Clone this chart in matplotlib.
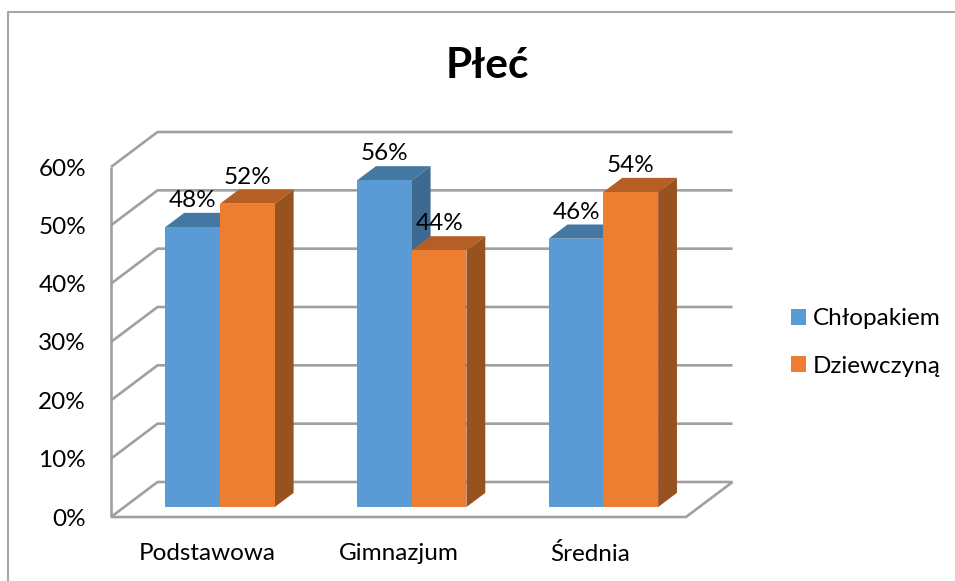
import matplotlib
matplotlib.use("Agg")
import matplotlib.pyplot as plt
from matplotlib.patches import Polygon, Patch
from matplotlib.lines import Line2D
import numpy as np

plt.rcParams['font.family'] = ['Lato', 'DejaVu Sans']

title = "Płeć"
categories = ["Podstawowa", "Gimnazjum", "Średnia"]
series_names = ["Chłopakiem", "Dziewczyną"]
chlopakiem = [48, 56, 46]
dziewczyna = [52, 44, 54]
y_ticks = [0, 10, 20, 30, 40, 50, 60]
colors = ["#5B9BD5", "#ED7D31"]
top_colors = ["#4577A3", "#B65F25"]
side_colors = ["#3E6A92", "#98521F"]
GRID = "#A0A0A0"
FS = 17.5

W, H = 955, 581
fig = plt.figure(figsize=(W / 100, H / 100), dpi=100, facecolor="white")

# Front plane of the 3D box, in pixels
PX_L, PX_R, PX_B, PX_T = 111.0, 686.0, 517.0, 167.0
ax = fig.add_axes([PX_L / W, 1 - PX_B / H, (PX_R - PX_L) / W, (PX_B - PX_T) / H])
ax.set_xlim(-0.5, 2.5)
ax.set_ylim(0, 60)
ax.patch.set_visible(False)
for s in ax.spines.values():
    s.set_visible(False)

# Box depth expressed in data units
sx = (PX_R - PX_L) / 3
sy = (PX_B - PX_T) / 60
DEPTH_X = 46.5 / sx
DEPTH_Y = 35.0 / sy


def proj(x, y, d):
    return x + d * DEPTH_X, y + d * DEPTH_Y


# walls / floor gridlines
kw = dict(color=GRID, lw=1.9, clip_on=False, solid_capstyle="butt", zorder=1)
for t in y_ticks:
    x0, y0 = proj(-0.5, t, 0)
    x1, y1 = proj(-0.5, t, 1)
    x2, y2 = proj(2.5, t, 1)
    ax.add_line(Line2D([x0, x1, x2], [y0, y1, y2], **kw))
x0, y0 = proj(-0.5, 0, 0)
x1, y1 = proj(-0.5, 60, 0)
ax.add_line(Line2D([x0, x1], [y0, y1], **kw))
x3, y3 = proj(2.5, 0, 0)
x4, y4 = proj(2.5, 0, 1)
ax.add_line(Line2D([x0, x3, x4], [y0, y3, y4], **kw))

# bars
BAR_W = 54.7 / sx
D0, D1 = 0.285, 0.69
z = 2
for i in range(len(categories)):
    for j, vals in enumerate([chlopakiem, dziewczyna]):
        v = vals[i]
        xl = i + (j - 1) * BAR_W
        xr = xl + BAR_W
        bx, by = proj(xl, 0, D0)
        ax.bar(bx, v, width=BAR_W, bottom=by, align="edge", color=colors[j],
               zorder=z + 0.2, clip_on=False, linewidth=0)
        top = [proj(xl, v, D0), proj(xr, v, D0), proj(xr, v, D1), proj(xl, v, D1)]
        ax.add_patch(Polygon(top, closed=True, fc=top_colors[j], ec="none", zorder=z, clip_on=False))
        side = [proj(xr, 0, D0), proj(xr, v, D0), proj(xr, v, D1), proj(xr, 0, D1)]
        ax.add_patch(Polygon(side, closed=True, fc=side_colors[j], ec="none", zorder=z + 0.1, clip_on=False))
        lx, ly = proj(xl + BAR_W / 2, v, D0)
        ax.annotate(f"{v}%", (lx, ly), xytext=(0, 19.2), textcoords="offset points",
                    ha="center", va="center", fontsize=FS, color="#000000",
                    zorder=20, annotation_clip=False)
        z += 1

# axis labels
ax.set_xticks(range(len(categories)))
ax.set_xticklabels(categories, fontsize=FS, color="#000000")
ax.tick_params(axis="x", length=0, pad=18.5)
for lab in ax.get_xticklabels():
    lab.set_x(lab.get_position()[0])
ax.set_yticks(y_ticks)
ax.set_yticklabels([f"{t}%" for t in y_ticks], fontsize=FS, color="#000000")
ax.tick_params(axis="y", length=0, pad=18)

# title and legend
fig.text(487.5 / W, 1 - 66 / H, title, ha="center", va="center", fontsize=30.5,
         fontweight="bold", color="#000000")
handles = [Patch(fc=c, ec="none") for c in colors]
fig.legend(handles, series_names, loc="center left",
           bbox_to_anchor=(791 / W, 1 - 342.5 / H), frameon=False, fontsize=FS,
           handlelength=0.62, handleheight=0.62, handletextpad=0.29,
           labelspacing=1.09, borderpad=0, borderaxespad=0)

# outer chart frame: open at right and bottom
fig.add_artist(Line2D([7.5 / W, 7.5 / W, 1], [0, 1 - 12 / H, 1 - 12 / H],
                      color="#A6A6A6", lw=1.5, transform=fig.transFigure))

fig.savefig("out.png", dpi=100, facecolor="white")
